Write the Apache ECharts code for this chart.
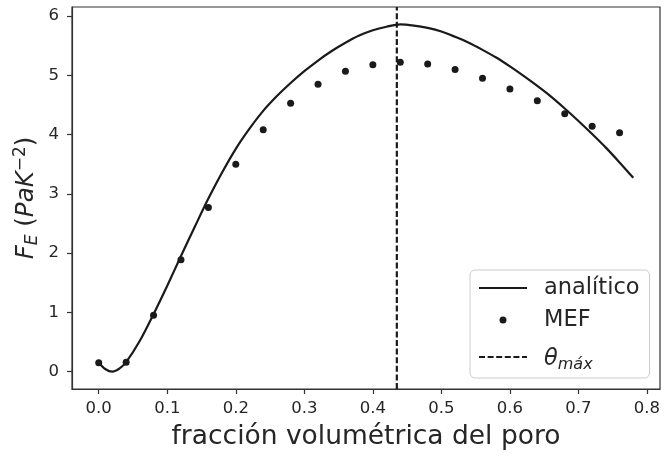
<!DOCTYPE html>
<html>
<head>
<meta charset="utf-8">
<script src="https://cdn.jsdelivr.net/npm/echarts@6/dist/echarts.min.js"></script>
<style>html,body{margin:0;padding:0;background:#fff}#c{width:665px;height:457px}</style>
</head>
<body>
<div id="c"></div>
<script>
// analytic curve
var curveX = [0, 0.01, 0.02, 0.03, 0.04, 0.06, 0.08, 0.10, 0.12, 0.14, 0.16, 0.18, 0.20, 0.22, 0.24, 0.26, 0.28, 0.30, 0.32, 0.34, 0.36, 0.38, 0.40, 0.42, 0.44, 0.46, 0.48, 0.50, 0.52, 0.54, 0.56, 0.58, 0.60, 0.62, 0.64, 0.66, 0.68, 0.70, 0.72, 0.74, 0.76, 0.78];
var curveY = [0.15, 0.04, 0.00, 0.05, 0.16, 0.52, 0.97, 1.45, 1.95, 2.44, 2.92, 3.36, 3.76, 4.10, 4.40, 4.65, 4.87, 5.07, 5.25, 5.41, 5.55, 5.67, 5.76, 5.82, 5.86, 5.84, 5.80, 5.74, 5.65, 5.55, 5.43, 5.30, 5.15, 4.99, 4.82, 4.64, 4.44, 4.23, 4.01, 3.78, 3.53, 3.27];
// MEF points
var mefX = [0.00, 0.04, 0.08, 0.12, 0.16, 0.20, 0.24, 0.28, 0.32, 0.36, 0.40, 0.44, 0.48, 0.52, 0.56, 0.60, 0.64, 0.68, 0.72, 0.76];
var mefY = [0.15, 0.16, 0.95, 1.89, 2.77, 3.50, 4.08, 4.53, 4.85, 5.07, 5.18, 5.22, 5.19, 5.10, 4.95, 4.77, 4.57, 4.35, 4.14, 4.03];
// theta max
var thetaMax = 0.435;
// axes
var xMin = -0.039, xMax = 0.819;
var yMin = -0.293, yMax = 6.153;
var xTicks = [0, 0.1, 0.2, 0.3, 0.4, 0.5, 0.6, 0.7, 0.8];
var yTicks = [0, 1, 2, 3, 4, 5, 6];

var txt = '#262626';
var font = 'DejaVu Sans';

function zip(a, b) { return a.map(function (v, i) { return [v, b[i]]; }); }

var chart = echarts.init(document.getElementById('c'), null, {renderer: 'canvas'});
chart.setOption({
  animation: false,
  backgroundColor: '#fff',
  grid: {left: 72, top: 7, width: 588, height: 382, show: true, borderColor: '#333', borderWidth: 1.2, backgroundColor: 'transparent'},
  xAxis: {
    type: 'value', min: xMin, max: xMax,
    name: 'fracción volumétrica del poro', nameLocation: 'middle', nameGap: 35, nameMoveOverlap: false,
    nameTextStyle: {fontFamily: font, fontSize: 26.5, color: txt},
    axisLine: {show: true, onZero: false, lineStyle: {color: '#333', width: 1.2}},
    axisTick: {show: true, length: 5, customValues: xTicks, lineStyle: {color: '#333', width: 1.2}},
    axisLabel: {customValues: xTicks, fontFamily: font, fontSize: 16.5, color: txt, margin: 11,
      formatter: function (v) { return v.toFixed(1); }},
    splitLine: {show: false}
  },
  yAxis: {
    type: 'value', min: yMin, max: yMax,
    name: '{i|F}{sub|E}{n| (}{i|PaK}{sup|−2}{n|)}', nameLocation: 'middle', nameGap: 30, nameRotate: 90,
    nameMoveOverlap: false,
    nameTextStyle: {fontFamily: font, fontSize: 24.5, color: txt,
      rich: {
        i: {fontFamily: font, fontSize: 24.5, fontStyle: 'italic', color: txt},
        n: {fontFamily: font, fontSize: 24.5, color: txt},
        sub: {fontFamily: font, fontSize: 17, fontStyle: 'italic', color: txt, padding: [11, 0, 0, 0]},
        sup: {fontFamily: font, fontSize: 17, color: txt, padding: [0, 0, 13, 0]}
      }},
    axisLine: {show: true, onZero: false, lineStyle: {color: '#333', width: 1.2}},
    axisTick: {show: true, length: 5, customValues: yTicks, lineStyle: {color: '#333', width: 1.2}},
    axisLabel: {customValues: yTicks, fontFamily: font, fontSize: 16.5, color: txt, margin: 13},
    splitLine: {show: false}
  },
  legend: {
    orient: 'vertical', left: 470, top: 270,
    backgroundColor: 'rgba(255,255,255,0.8)', borderColor: '#cccccc', borderWidth: 1, borderRadius: 5,
    padding: [5, 10, 3, 8], itemWidth: 48, itemHeight: 7, itemGap: 6,
    textStyle: {fontFamily: font, fontSize: 22.5, color: txt, lineHeight: 26, padding: [0, 0, 0, 12],
      rich: {
        i: {fontFamily: font, fontSize: 22.5, fontStyle: 'italic', color: txt, lineHeight: 26},
        sub: {fontFamily: font, fontSize: 16, fontStyle: 'italic', color: txt, padding: [12, 0, 0, 0]}
      }},
    formatter: function (name) {
      if (name === 'theta') return '{i|θ}{sub|máx}';
      return name;
    },
    data: [
      {name: 'analítico', itemStyle: {color: 'transparent', borderWidth: 0}},
      {name: 'MEF', icon: 'circle'},
      {name: 'theta', itemStyle: {color: 'transparent', borderWidth: 0},
        textStyle: {padding: [7, 0, 3, 12]}}
    ]
  },
  series: [
    {
      name: 'analítico', type: 'line', data: zip(curveX, curveY), smooth: 0.3,
      symbol: 'none', lineStyle: {color: '#1a1a1a', width: 2.2}, itemStyle: {color: '#1a1a1a'}, z: 3
    },
    {
      name: 'MEF', type: 'scatter', data: zip(mefX, mefY), symbol: 'circle', symbolSize: 7,
      itemStyle: {color: '#1a1a1a', opacity: 1}, z: 4
    },
    {
      name: 'theta', type: 'line', data: [[thetaMax, yMin], [thetaMax, yMax]], symbol: 'none',
      lineStyle: {color: '#1a1a1a', width: 2.2, type: [6, 2.6]}, itemStyle: {color: '#1a1a1a'}, z: 2
    }
  ]
});
</script>
</body>
</html>
